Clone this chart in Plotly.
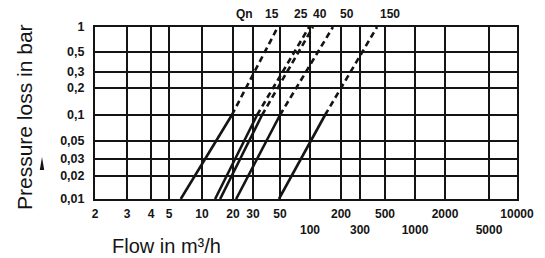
import numpy as np
import plotly.graph_objects as go

# ---------------- data ----------------
X_TICKS = [2, 3, 4, 5, 10, 20, 30, 50, 100, 200, 300, 500, 1000, 2000, 5000, 10000]
X_LABELS = ["2", "3", "4", "5", "10", "20", "30", "50", "<br>100", "200", "<br>300",
            "500", "<br>1000", "2000", "<br>5000", "10000"]
Y_TICKS = [0.01, 0.02, 0.03, 0.05, 0.1, 0.2, 0.3, 0.5, 1]
Y_LABELS = ["0,01", "0,02", "0,03", "0,05", "0,1", "0,2", "0,3", "0,5", "1"]

QN = ["15", "25", "40", "50", "150"]
DP_POINTS = [0.01, 0.1, 1.0]          # pressure loss (bar) at which flows are read
FLOW_15 = [6.4, 19.5, 48]
FLOW_25 = [13.4, 32.4, 98]
FLOW_40 = [15, 35.6, 107]
FLOW_50 = [21.3, 50, 167]
FLOW_150 = [49, 140, 425]
FLOWS = [FLOW_15, FLOW_25, FLOW_40, FLOW_50, FLOW_150]

# ------------- chart scale (non-uniform printed grid) -------------
X_GRID = [95, 127, 151, 169, 202, 233, 253, 280, 310, 341, 360, 385, 415, 445, 489, 517]
Y_GRID = [199, 176, 159, 141, 115, 88, 72, 52, 27]


def xpos(v):
    return np.interp(np.log10(v), np.log10(X_TICKS), X_GRID)


def ypos(v):
    return np.interp(np.log10(v), np.log10(Y_TICKS), Y_GRID)


INK = "#141414"
FAM = "Liberation Sans, Arial, sans-serif"
W, H = 545, 258
L, R, T, B = 95, 28, 27, 59
pw, ph = W - L - R, H - T - B


def px(x):
    return (x - L) / pw


def py(y):
    return (H - B - y) / ph


fig = go.Figure()
for name, fl in zip(QN, FLOWS):
    xs = xpos(np.array(fl, dtype=float))
    ys = ypos(np.array(DP_POINTS))
    fig.add_trace(go.Scatter(x=xs[:2], y=ys[:2], mode="lines", name=name,
                             line=dict(color=INK, width=2.6), showlegend=False,
                             hoverinfo="skip"))
    fig.add_trace(go.Scatter(x=xs[1:], y=ys[1:], mode="lines", name=name,
                             line=dict(color=INK, width=2.6, dash="6px,4px"),
                             showlegend=False, hoverinfo="skip"))

tickfont = dict(family=FAM, size=12, color=INK, weight=700)

fig.update_xaxes(range=[95, 517], tickmode="array", tickvals=[xpos(v) for v in X_TICKS],
                 ticktext=X_LABELS, showgrid=True, gridcolor=INK, gridwidth=2,
                 showline=True, linecolor=INK, linewidth=2, mirror=True,
                 zeroline=False, ticks="", tickfont=tickfont, ticklabelstandoff=3,
                 tickangle=0)
fig.update_yaxes(range=[199, 27], tickmode="array", tickvals=[ypos(v) for v in Y_TICKS],
                 ticktext=Y_LABELS, showgrid=True, gridcolor=INK, gridwidth=2,
                 showline=True, linecolor=INK, linewidth=2, mirror=True,
                 zeroline=False, ticks="", tickfont=dict(tickfont, size=12.5),
                 ticklabelstandoff=6)

ann = []
top_labels = [("Qn", 244), ("15", 272), ("25", 301), ("40", 320), ("50", 347), ("150", 390)]
for txt, x in top_labels:
    ann.append(dict(x=x, y=1.0, xref="x", yref="paper", yanchor="bottom", yshift=4,
                    text=txt, showarrow=False, font=tickfont))
ann.append(dict(x=px(24), y=py(117), xref="paper", yref="paper",
                xanchor="center", yanchor="middle",
                text="Pressure loss in bar", showarrow=False, textangle=-90,
                font=dict(family=FAM, size=21, color=INK)))
ann.append(dict(x=px(166), y=py(246), xref="paper", yref="paper",
                xanchor="center", yanchor="middle",
                text="Flow in m³/h", showarrow=False,
                font=dict(family=FAM, size=20, color=INK)))

tri_x = px(42)
fig.update_layout(
    annotations=ann,
    shapes=[dict(type="path", xref="paper", yref="paper",
                 path=f"M {tri_x},{py(157)} L {tri_x + 2.2/pw},{py(170)} "
                      f"L {tri_x - 2.2/pw},{py(170)} Z",
                 fillcolor=INK, line=dict(width=0))],
    width=W, height=H, margin=dict(l=L, r=R, t=T, b=B, autoexpand=False),
    plot_bgcolor="white", paper_bgcolor="white",
)

fig.write_html("out.html", config={"displayModeBar": False},
               post_script="document.body.style.margin='0';")
